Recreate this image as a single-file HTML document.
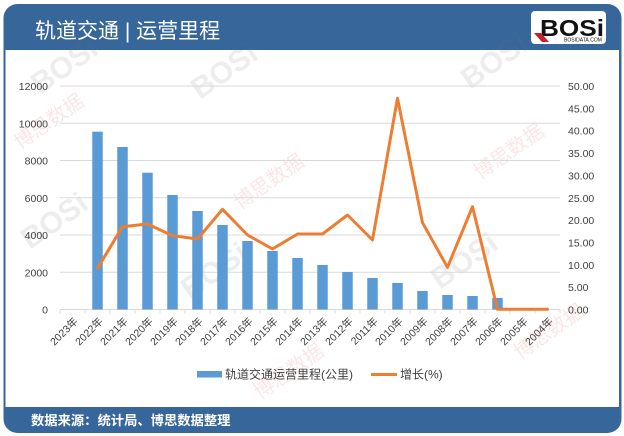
<!DOCTYPE html>
<html><head><meta charset="utf-8"><style>
html,body{margin:0;padding:0;background:#fff;}
svg{display:block;}
text{font-family:"Liberation Sans","Noto Sans CJK SC",sans-serif;}
</style></head><body>
<svg width="624" height="436" viewBox="0 0 624 436" xmlns="http://www.w3.org/2000/svg">
<rect x="0" y="0" width="624" height="436" fill="#ffffff"/>
<!-- frame -->
<rect x="3.5" y="4" width="618" height="429" rx="14" ry="14" fill="#37669B"/>
<rect x="5.5" y="50" width="613.5" height="357" fill="#ffffff"/>
<!-- header text -->
<text x="35" y="38" font-size="21" fill="#ffffff" font-family="'Noto Sans CJK SC',sans-serif">轨道交通 | 运营里程</text>
<!-- logo -->
<rect x="531" y="11" width="75" height="33" rx="4" fill="#ffffff"/>
<text x="540" y="36" font-size="23" font-weight="bold" fill="#111" font-family="'Liberation Sans',sans-serif" textLength="64" lengthAdjust="spacingAndGlyphs">BOSi</text>
<polygon points="534,33 541,33 549,42 542,42" fill="#c8202a"/>
<text x="564" y="41.5" font-size="5" fill="#111" textLength="38" lengthAdjust="spacingAndGlyphs">BOSIDATA.COM</text>
<!-- footer text -->
<text x="31" y="425" font-size="13.3" font-weight="bold" fill="#ffffff" font-family="'Noto Sans CJK SC',sans-serif">数据来源：统计局、博思数据整理</text>

<!-- watermarks -->
<g opacity="0.13" font-weight="bold" fill="#777">
<text x="40" y="95" font-size="30" transform="rotate(-35 40 95)">BOSi</text>
<text x="200" y="100" font-size="30" transform="rotate(-35 200 100)">BOSi</text>
<text x="470" y="90" font-size="30" transform="rotate(-35 470 90)">BOSi</text>
<text x="440" y="290" font-size="30" transform="rotate(-35 440 290)">BOSi</text>
<text x="190" y="300" font-size="30" transform="rotate(-35 190 300)">BOSi</text>
<text x="30" y="250" font-size="30" transform="rotate(-35 30 250)">BOSi</text>
</g>
<g opacity="0.12" fill="#d03030" font-family="'Noto Sans CJK SC',sans-serif">
<text x="20" y="150" font-size="20" transform="rotate(-35 20 150)">博思数据</text>
<text x="240" y="210" font-size="20" transform="rotate(-35 240 210)">博思数据</text>
<text x="480" y="180" font-size="20" transform="rotate(-35 480 180)">博思数据</text>
<text x="520" y="360" font-size="20" transform="rotate(-35 520 360)">博思数据</text>
<text x="260" y="400" font-size="20" transform="rotate(-35 260 400)">博思数据</text>
</g>

<!-- gridlines -->
<g stroke="#D9D9D9" stroke-width="1">
<line x1="60" y1="86" x2="560" y2="86"/>
<line x1="60" y1="123.25" x2="560" y2="123.25"/>
<line x1="60" y1="160.5" x2="560" y2="160.5"/>
<line x1="60" y1="197.75" x2="560" y2="197.75"/>
<line x1="60" y1="235" x2="560" y2="235"/>
<line x1="60" y1="272.25" x2="560" y2="272.25"/>
<line x1="60" y1="309.5" x2="560" y2="309.5"/>
</g>
<g stroke="#D9D9D9" stroke-width="1">
<line x1="60" y1="309.5" x2="60" y2="313.5"/><line x1="85" y1="309.5" x2="85" y2="313.5"/><line x1="110" y1="309.5" x2="110" y2="313.5"/><line x1="135" y1="309.5" x2="135" y2="313.5"/><line x1="160" y1="309.5" x2="160" y2="313.5"/><line x1="185" y1="309.5" x2="185" y2="313.5"/><line x1="210" y1="309.5" x2="210" y2="313.5"/><line x1="235" y1="309.5" x2="235" y2="313.5"/><line x1="260" y1="309.5" x2="260" y2="313.5"/><line x1="285" y1="309.5" x2="285" y2="313.5"/><line x1="310" y1="309.5" x2="310" y2="313.5"/><line x1="335" y1="309.5" x2="335" y2="313.5"/><line x1="360" y1="309.5" x2="360" y2="313.5"/><line x1="385" y1="309.5" x2="385" y2="313.5"/><line x1="410" y1="309.5" x2="410" y2="313.5"/><line x1="435" y1="309.5" x2="435" y2="313.5"/><line x1="460" y1="309.5" x2="460" y2="313.5"/><line x1="485" y1="309.5" x2="485" y2="313.5"/><line x1="510" y1="309.5" x2="510" y2="313.5"/><line x1="535" y1="309.5" x2="535" y2="313.5"/><line x1="560" y1="309.5" x2="560" y2="313.5"/>
</g>

<!-- left axis labels -->
<g font-size="10.5" fill="#404040" text-anchor="end">
<text x="48" y="90">12000</text>
<text x="48" y="127.25">10000</text>
<text x="48" y="164.5">8000</text>
<text x="48" y="201.75">6000</text>
<text x="48" y="239">4000</text>
<text x="48" y="276.25">2000</text>
<text x="48" y="313.5">0</text>
</g>
<!-- right axis labels -->
<g font-size="10.5" fill="#404040">
<text x="568" y="90">50.00</text>
<text x="568" y="112.35">45.00</text>
<text x="568" y="134.7">40.00</text>
<text x="568" y="157.05">35.00</text>
<text x="568" y="179.4">30.00</text>
<text x="568" y="201.75">25.00</text>
<text x="568" y="224.1">20.00</text>
<text x="568" y="246.45">15.00</text>
<text x="568" y="268.8">10.00</text>
<text x="568" y="291.15">5.00</text>
<text x="568" y="313.5">0.00</text>
</g>

<!-- bars -->
<g fill="#5B9BD5">
<rect x="92.25" y="131.7" width="10.5" height="177.8"/>
<rect x="117.25" y="147" width="10.5" height="162.5"/>
<rect x="142.25" y="172.7" width="10.5" height="136.8"/>
<rect x="167.25" y="195" width="10.5" height="114.5"/>
<rect x="192.25" y="211" width="10.5" height="98.5"/>
<rect x="217.25" y="225" width="10.5" height="84.5"/>
<rect x="242.25" y="241" width="10.5" height="68.5"/>
<rect x="267.25" y="251" width="10.5" height="58.5"/>
<rect x="292.25" y="258" width="10.5" height="51.5"/>
<rect x="317.25" y="265" width="10.5" height="44.5"/>
<rect x="342.25" y="272" width="10.5" height="37.5"/>
<rect x="367.25" y="278" width="10.5" height="31.5"/>
<rect x="392.25" y="283" width="10.5" height="26.5"/>
<rect x="417.25" y="291" width="10.5" height="18.5"/>
<rect x="442.25" y="295" width="10.5" height="14.5"/>
<rect x="467.25" y="296" width="10.5" height="13.5"/>
<rect x="492.25" y="298" width="10.5" height="11.5"/>
</g>

<!-- line -->
<polyline fill="none" stroke="#ED7D31" stroke-width="3" stroke-linejoin="round" stroke-linecap="round"
points="97.5,268.3 122.5,226.7 147.5,224 172.5,235.7 197.5,239 222.5,209.3 247.5,235 272.5,249 297.5,234 322.5,234 347.5,215 372.5,240 397.5,98.3 422.5,222.7 447.5,267.3 472.5,206.7 497.5,309.3 522.5,309.3 547.5,309.3"/>

<!-- x labels -->
<g font-size="10.5" fill="#404040" text-anchor="end" font-family="'Liberation Sans','Noto Sans CJK SC',sans-serif">
<text x="78.5" y="322" transform="rotate(-45 78.5 322)">2023年</text>
<text x="103.5" y="322" transform="rotate(-45 103.5 322)">2022年</text>
<text x="128.5" y="322" transform="rotate(-45 128.5 322)">2021年</text>
<text x="153.5" y="322" transform="rotate(-45 153.5 322)">2020年</text>
<text x="178.5" y="322" transform="rotate(-45 178.5 322)">2019年</text>
<text x="203.5" y="322" transform="rotate(-45 203.5 322)">2018年</text>
<text x="228.5" y="322" transform="rotate(-45 228.5 322)">2017年</text>
<text x="253.5" y="322" transform="rotate(-45 253.5 322)">2016年</text>
<text x="278.5" y="322" transform="rotate(-45 278.5 322)">2015年</text>
<text x="303.5" y="322" transform="rotate(-45 303.5 322)">2014年</text>
<text x="328.5" y="322" transform="rotate(-45 328.5 322)">2013年</text>
<text x="353.5" y="322" transform="rotate(-45 353.5 322)">2012年</text>
<text x="378.5" y="322" transform="rotate(-45 378.5 322)">2011年</text>
<text x="403.5" y="322" transform="rotate(-45 403.5 322)">2010年</text>
<text x="428.5" y="322" transform="rotate(-45 428.5 322)">2009年</text>
<text x="453.5" y="322" transform="rotate(-45 453.5 322)">2008年</text>
<text x="478.5" y="322" transform="rotate(-45 478.5 322)">2007年</text>
<text x="503.5" y="322" transform="rotate(-45 503.5 322)">2006年</text>
<text x="528.5" y="322" transform="rotate(-45 528.5 322)">2005年</text>
<text x="553.5" y="322" transform="rotate(-45 553.5 322)">2004年</text>
</g>

<!-- legend -->
<rect x="197" y="371" width="25" height="6.5" fill="#5B9BD5"/>
<text x="225" y="378.5" font-size="12" fill="#404040">轨道交通运营里程(公里)</text>
<line x1="371" y1="374.5" x2="397" y2="374.5" stroke="#ED7D31" stroke-width="3"/>
<text x="400" y="378.5" font-size="12" fill="#404040">增长(%)</text>
</svg>
</body></html>
